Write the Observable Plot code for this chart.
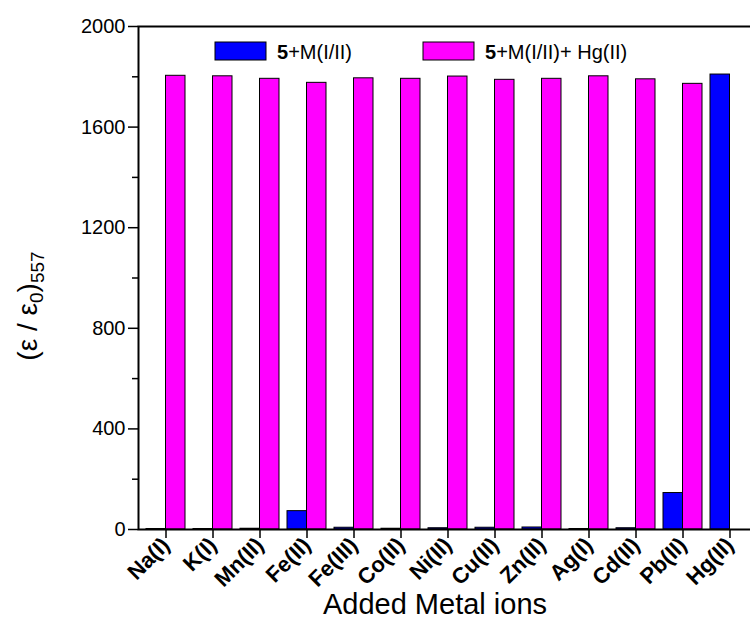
<!DOCTYPE html>
<html>
<head>
<meta charset="utf-8">
<script src="https://cdn.jsdelivr.net/npm/d3@7"></script>
<script src="https://cdn.jsdelivr.net/npm/@observablehq/plot@0.6"></script>
<style>
  html, body { margin: 0; padding: 0; background: #fff; }
  #chart { width: 750px; height: 630px; position: relative; font-family: Arial, "Liberation Sans", sans-serif; }
</style>
</head>
<body>
<div id="chart"></div>
<script>
const metals = ["Na(I)", "K(I)", "Mn(II)", "Fe(II)", "Fe(III)", "Co(II)", "Ni(II)", "Cu(II)", "Zn(II)", "Ag(I)", "Cd(II)", "Pb(II)", "Hg(II)"];
const blueValues = [2, 2, 3, 73, 7, 3, 5, 7, 8, 2, 5, 145, 1809];
const magentaValues = [1804, 1802, 1792, 1776, 1794, 1792, 1801, 1788, 1792, 1802, 1790, 1772, null];
const majorTicks = [0, 400, 800, 1200, 1600, 2000];
const minorTicks = [200, 600, 1000, 1400, 1800];
const seriesNames = ["+M(I/II)", "+M(I/II)+ Hg(II)"];

const blueData = metals.map((m, i) => ({metal: m, value: blueValues[i]}));
const magentaData = metals.map((m, i) => ({metal: m, value: magentaValues[i]})).filter(d => d.value != null);

const halfBand = 19.5;
const font = 'Arial, "Liberation Sans", sans-serif';

const plot = Plot.plot({
  width: 750,
  height: 630,
  marginLeft: 138,
  marginRight: -6.5,
  marginTop: 26,
  marginBottom: 101,
  style: {fontFamily: font, color: "black", background: "white", overflow: "visible"},
  x: {domain: metals, paddingInner: 0.18, paddingOuter: 0.09},
  y: {domain: [0, 2000]},
  marks: [
    Plot.barY(blueData, {x: "metal", y: "value", fill: "#0000ff", stroke: "black", strokeWidth: 1, insetLeft: 0, insetRight: halfBand}),
    Plot.barY(magentaData, {x: "metal", y: "value", fill: "#ff00ff", stroke: "black", strokeWidth: 1, insetLeft: halfBand, insetRight: 0}),
    Plot.axisY({ticks: majorTicks, tickSize: 10, tickPadding: 3, fontSize: 20, strokeWidth: 1.5, tickFormat: d => String(d), label: null}),
    Plot.axisY({ticks: minorTicks, tickSize: 6, tickFormat: () => "", strokeWidth: 1.5, label: null}),
    Plot.axisX({tickSize: 9, tickPadding: 3, tickRotate: -45, fontSize: 22, fontWeight: "bold", strokeWidth: 1.5, label: null}),
    Plot.frame({stroke: "black", strokeWidth: 2})
  ]
});

document.getElementById("chart").appendChild(plot);

const svg = d3.select(plot);

// y-axis title with subscripts
const yt = svg.append("text")
  .attr("transform", "translate(37,306) rotate(-90)")
  .attr("text-anchor", "middle")
  .attr("font-family", font)
  .attr("font-size", 28)
  .attr("fill", "black");
yt.append("tspan").text("(ε / ε");
yt.append("tspan").attr("font-size", 19).attr("dy", 6).text("0");
yt.append("tspan").attr("dy", -6).text(")");
yt.append("tspan").attr("font-size", 19).attr("dy", 7).text("557");

// x-axis title
svg.append("text")
  .attr("x", 435).attr("y", 614)
  .attr("text-anchor", "middle")
  .attr("font-family", font)
  .attr("font-size", 29)
  .attr("fill", "black")
  .text("Added Metal ions");

// legend
const legendItems = [
  {color: "#0000ff", x: 215, name: seriesNames[0]},
  {color: "#ff00ff", x: 423, name: seriesNames[1]}
];
for (const it of legendItems) {
  svg.append("rect").attr("x", it.x).attr("y", 42).attr("width", 51).attr("height", 18)
    .attr("fill", it.color).attr("stroke", "black").attr("stroke-width", 1);
  const t = svg.append("text").attr("x", it.x + 62).attr("y", 58.5)
    .attr("text-anchor", "start")
    .attr("font-family", font).attr("font-size", 20).attr("fill", "black");
  t.append("tspan").attr("font-weight", "bold").text("5");
  t.append("tspan").text(it.name);
}
</script>
</body>
</html>
